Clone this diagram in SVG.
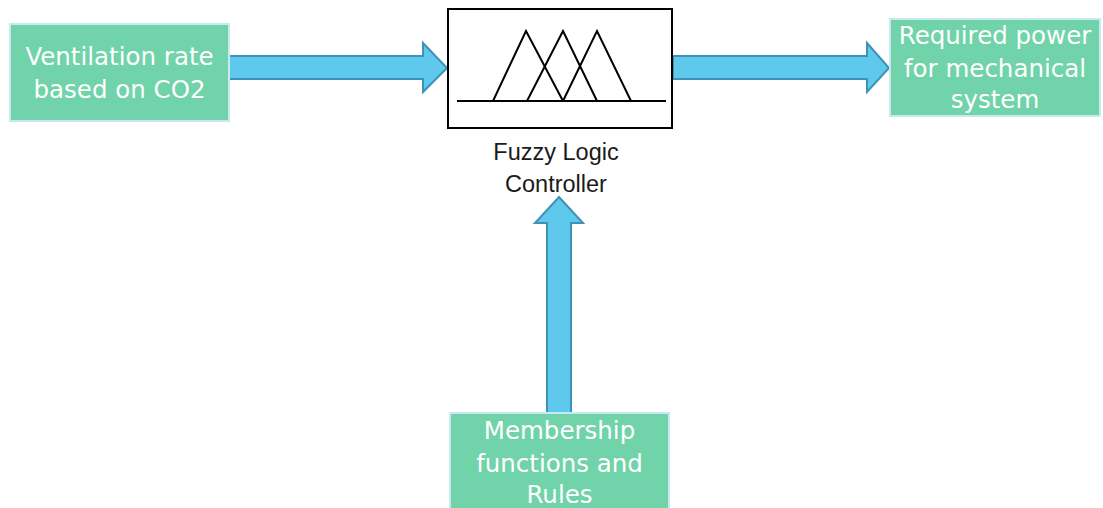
<svg xmlns="http://www.w3.org/2000/svg" width="1103" height="508" viewBox="0 0 1103 508">
<style>
.box{fill:#70d3aa;stroke:#c8e9f1;stroke-width:2}
.lbl{font-family:"DejaVu Sans",Verdana,sans-serif;font-size:24.5px;fill:#ffffff;text-anchor:middle}
.arr{fill:#5ec9ec;stroke:#3d93b5;stroke-width:2;stroke-linejoin:miter}
.mf{fill:none;stroke:#000;stroke-width:2}
.cap{font-family:"Liberation Sans",Arial,sans-serif;font-size:23.5px;fill:#1a1a1a;text-anchor:middle}
</style>
<rect width="1103" height="508" fill="#ffffff"/>
<g id="connectors">
<polygon class="arr" points="229,56 423,56 423,43 447,68 423,92 423,79 229,79"/>
<polygon class="arr" points="673,56 867,56 867,43 889,68 867,92 867,79 673,79"/>
<polygon class="arr" points="547,413 547,223 535,223 559,197 583,223 571,223 571,413"/>
</g>
<g id="ventilation">
<rect class="box" x="10" y="24" width="219" height="97"/>
<text class="lbl" x="119.5" y="65">Ventilation rate</text>
<text class="lbl" x="119.5" y="98">based on CO2</text>
</g>
<g id="flc">
<rect x="448" y="9" width="224" height="119" fill="#fff" stroke="#000" stroke-width="2"/>
<line class="mf" x1="457" y1="101" x2="666" y2="101"/>
<polyline class="mf" points="493,101 526,31 563,101"/>
<polyline class="mf" points="527,101 563,31 597,101"/>
<polyline class="mf" points="563,101 597,31 631,101"/>
<text class="cap" x="556" y="160">Fuzzy Logic</text>
<text class="cap" x="556" y="192">Controller</text>
</g>
<g id="power">
<rect class="box" x="890" y="19" width="210" height="97"/>
<text class="lbl" x="995" y="44">Required power</text>
<text class="lbl" x="995" y="77">for mechanical</text>
<text class="lbl" x="995" y="108">system</text>
</g>
<g id="membership">
<rect class="box" x="450" y="413" width="219" height="100"/>
<text class="lbl" x="559.5" y="439">Membership</text>
<text class="lbl" x="559.5" y="472">functions and</text>
<text class="lbl" x="559.5" y="503">Rules</text>
</g>
</svg>
